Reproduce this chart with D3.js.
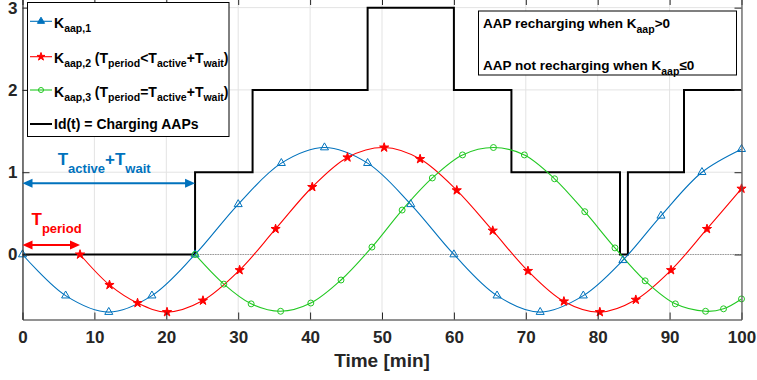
<!DOCTYPE html>
<html>
<head>
<meta charset="utf-8">
<script src="https://cdn.jsdelivr.net/npm/d3@7"></script>
<style>
  html, body { margin: 0; padding: 0; background: #fff; }
  svg { display: block; }
  text { font-family: "Liberation Sans", Arial, Helvetica, sans-serif; font-weight: bold; }
</style>
</head>
<body>
<svg id="chart" width="757" height="380"></svg>
<script>
// ---------------- data ----------------
const xTicks = [0, 10, 20, 30, 40, 50, 60, 70, 80, 90, 100];
const yTicks = [0, 1, 2, 3];

const k1Time = [0, 6, 12, 18, 24, 30, 36, 42, 48, 54, 60, 66, 72, 78, 83.5, 88.8, 94.5, 100];
const k1Val  = [0, -0.50, -0.70, -0.50, 0.0, 0.61, 1.11, 1.30, 1.11, 0.61, 0.0, -0.50, -0.70, -0.50, -0.07, 0.47, 1.00, 1.28];

const k2Time = [8, 12.1, 16, 20.1, 25.1, 30.2, 35.2, 40.3, 45.2, 50.3, 55.3, 60.4, 65.4, 70.3, 75.3, 80.3, 85.3, 90.2, 95.2, 100];
const k2Val  = [0, -0.37, -0.59, -0.70, -0.56, -0.19, 0.31, 0.82, 1.18, 1.30, 1.16, 0.78, 0.29, -0.20, -0.57, -0.70, -0.55, -0.19, 0.31, 0.80];

const k3Time = [24, 28, 31.8, 35.9, 40.1, 44.3, 48.6, 52.8, 57.0, 61.2, 65.5, 69.8, 74.0, 78.2, 82.4, 86.6, 90.8, 95.0, 97.5, 100];
const k3Val  = [0, -0.36, -0.60, -0.69, -0.59, -0.31, 0.09, 0.54, 0.93, 1.21, 1.30, 1.21, 0.92, 0.52, 0.08, -0.32, -0.60, -0.69, -0.66, -0.54];

const idTime = [0, 24, 32, 48, 60, 68, 83.1, 84.2, 92, 100];
const idVal  = [0, 1, 2, 3, 2, 1, 0, 1, 2, 2];

const xLabel = "Time [min]";

// ---------------- setup ----------------
const svg = d3.select("#chart");
const plotL = 22.5, plotR = 741.5, plotT = -2, plotB = 319.5;

const x = d3.scaleLinear().domain([0, 100]).range([plotL, plotR]);
const y = d3.scaleLinear().domain([-0.79, 3.117]).range([plotB, plotT]);

const BLUE = "#0072BD", RED = "#FF0000", GREEN = "#22C822", AX = "#262626";

svg.append("defs").append("clipPath").attr("id", "clip").append("rect")
  .attr("x", plotL).attr("y", plotT).attr("width", plotR - plotL).attr("height", plotB - plotT);

// grid
const grid = svg.append("g");
grid.selectAll("line.gx").data(xTicks).join("line")
  .attr("x1", d => x(d)).attr("x2", d => x(d)).attr("y1", plotT).attr("y2", plotB)
  .attr("stroke", "#e3e3e3").attr("stroke-width", 1);
grid.selectAll("line.gy").data(yTicks).join("line")
  .attr("x1", plotL).attr("x2", plotR).attr("y1", d => y(d)).attr("y2", d => y(d))
  .attr("stroke", "#e3e3e3").attr("stroke-width", 1);

// zero dotted line
svg.append("line")
  .attr("x1", x(0)).attr("x2", x(100)).attr("y1", y(0)).attr("y2", y(0))
  .attr("stroke", "#9a9a9a").attr("stroke-width", 1).attr("stroke-dasharray", "1.5,1");

const plot = svg.append("g").attr("clip-path", "url(#clip)");

// black step line
const idData = idTime.map((t, i) => [t, idVal[i]]);
plot.append("path").datum(idData)
  .attr("d", d3.line().x(d => x(d[0])).y(d => y(d[1])).curve(d3.curveStepAfter))
  .attr("fill", "none").attr("stroke", "#000").attr("stroke-width", 2);

// series
const seriesDefs = [
  {time: k1Time, val: k1Val, color: BLUE, sym: d3.symbolTriangle, size: 28, filled: false},
  {time: k2Time, val: k2Val, color: RED, sym: d3.symbolStar, size: 26, filled: true},
  {time: k3Time, val: k3Val, color: GREEN, sym: d3.symbolCircle, size: 28, filled: false}
];
seriesDefs.forEach(s => {
  const data = s.time.map((t, i) => [t, s.val[i]]);
  plot.append("path").datum(data)
    .attr("d", d3.line().x(d => x(d[0])).y(d => y(d[1])).curve(d3.curveCatmullRom.alpha(0.5)))
    .attr("fill", "none").attr("stroke", s.color).attr("stroke-width", 1.1);
  svg.append("g").selectAll("path").data(data).join("path")
    .attr("transform", d => `translate(${x(d[0])},${y(d[1])})`)
    .attr("d", d3.symbol().type(s.sym).size(s.size))
    .attr("fill", s.filled ? s.color : "none")
    .attr("stroke", s.color).attr("stroke-width", 1);
});

// ---------------- axes ----------------
const fontTick = 17;
const fmt = d3.format("d");
const gxB = svg.append("g").attr("transform", `translate(0,${plotB})`)
  .call(d3.axisBottom(x).tickValues(xTicks).tickFormat(fmt).tickSize(-7).tickPadding(11).tickSizeOuter(0));
const gxT = svg.append("g").attr("transform", `translate(0,${plotT})`)
  .call(d3.axisTop(x).tickValues(xTicks).tickSize(-7).tickFormat("").tickSizeOuter(0));
const gyL = svg.append("g").attr("transform", `translate(${plotL},0)`)
  .call(d3.axisLeft(y).tickValues(yTicks).tickFormat(fmt).tickSize(-7).tickPadding(5).tickSizeOuter(0));
const gyR = svg.append("g").attr("transform", `translate(${plotR},0)`)
  .call(d3.axisRight(y).tickValues(yTicks).tickSize(-7).tickFormat("").tickSizeOuter(0));
[gxB, gxT, gyL, gyR].forEach(g => {
  g.select(".domain").attr("stroke", AX).attr("stroke-width", 1.2);
  g.selectAll(".tick line").attr("stroke", AX).attr("stroke-width", 1);
  g.selectAll(".tick text").attr("fill", AX).style("font-size", fontTick + "px")
    .style("font-family", '"Liberation Sans", Arial, sans-serif').style("font-weight", "bold");
});
gyR.select(".domain").attr("stroke", "#555");

svg.append("text").attr("x", (plotL + plotR) / 2).attr("y", 367)
  .attr("text-anchor", "middle").attr("fill", AX).style("font-size", "19px").text(xLabel);

// ---------------- rich text helper ----------------
function richText(parent, px, py, segs, size, subSize, color, subShift) {
  const t = parent.append("text").attr("x", px).attr("y", py).attr("fill", color)
    .style("font-size", size + "px");
  let inSub = false;
  segs.forEach(s => {
    const sp = t.append("tspan").text(s.t);
    if (s.sub && !inSub) { sp.attr("dy", subShift); inSub = true; }
    else if (!s.sub && inSub) { sp.attr("dy", -subShift); inSub = false; }
    sp.style("font-size", (s.sub ? subSize : size) + "px");
  });
  return t;
}

// ---------------- annotations: arrows ----------------
const arrowSpans = [
  {from: 0, to: 24, level: 0.865, color: BLUE},
  {from: 0, to: 8, level: 0.115, color: RED}
];
arrowSpans.forEach(a => {
  const x1 = x(a.from), x2 = x(a.to), yy = y(a.level);
  const hl = 10, hw = 4.5;
  svg.append("line").attr("x1", x1 + 4).attr("x2", x2 - 4).attr("y1", yy).attr("y2", yy)
    .attr("stroke", a.color).attr("stroke-width", 2);
  svg.append("path").attr("d", `M${x1},${yy}L${x1 + hl},${yy - hw}L${x1 + hl},${yy + hw}Z`).attr("fill", a.color);
  svg.append("path").attr("d", `M${x2},${yy}L${x2 - hl},${yy - hw}L${x2 - hl},${yy + hw}Z`).attr("fill", a.color);
});

richText(svg, x(4.9), y(1.092),
  [{t: "T"}, {t: "active", sub: true}, {t: "+T"}, {t: "wait", sub: true}], 17, 13, BLUE, 8);
richText(svg, x(1.25), y(0.358),
  [{t: "T"}, {t: "period", sub: true}], 17, 13, RED, 8);

// ---------------- legend ----------------
const leg = svg.append("g");
leg.append("rect").attr("x", 27.5).attr("y", 2.5).attr("width", 201.5).attr("height", 134)
  .attr("fill", "#fff").attr("stroke", "#000").attr("stroke-width", 1);
const legendRows = [
  {y: 21.3, color: BLUE, sym: d3.symbolTriangle, size: 22, filled: true, w: 1.1,
   segs: [{t: "K"}, {t: "aap,1", sub: true}]},
  {y: 56.7, color: RED, sym: d3.symbolStar, size: 20, filled: true, w: 1.1,
   segs: [{t: "K"}, {t: "aap,2", sub: true}, {t: " (T"}, {t: "period", sub: true}, {t: "<T"},
          {t: "active", sub: true}, {t: "+T"}, {t: "wait", sub: true}, {t: ")"}]},
  {y: 90, color: GREEN, sym: d3.symbolCircle, size: 20, filled: false, w: 1.1,
   segs: [{t: "K"}, {t: "aap,3", sub: true}, {t: " (T"}, {t: "period", sub: true}, {t: "=T"},
          {t: "active", sub: true}, {t: "+T"}, {t: "wait", sub: true}, {t: ")"}]},
  {y: 124, color: "#000", sym: null, w: 2, segs: [{t: "Id(t) = Charging AAPs"}]}
];
legendRows.forEach(r => {
  leg.append("line").attr("x1", 30).attr("x2", 52).attr("y1", r.y).attr("y2", r.y)
    .attr("stroke", r.color).attr("stroke-width", r.w);
  if (r.sym) {
    leg.append("path").attr("transform", `translate(41,${r.y})`)
      .attr("d", d3.symbol().type(r.sym).size(r.size))
      .attr("fill", r.filled ? r.color : "none").attr("stroke", r.color).attr("stroke-width", 1);
  }
  richText(leg, 54, r.y + (r.sym ? 6.5 : 5), r.segs, 14, 10.5, "#000", 4);
});

// ---------------- info box ----------------
const box = svg.append("g");
box.append("rect").attr("x", 478.5).attr("y", 11).attr("width", 258).attr("height", 64)
  .attr("fill", "#fff").attr("stroke", "#000").attr("stroke-width", 1);
richText(box, 483, 28, [{t: "AAP recharging when K"}, {t: "aap", sub: true}, {t: ">0"}], 13.5, 10.5, "#000", 5);
richText(box, 483, 70, [{t: "AAP not recharging when K"}, {t: "aap", sub: true}, {t: "≤0"}], 13.5, 10.5, "#000", 5);
</script>
</body>
</html>
